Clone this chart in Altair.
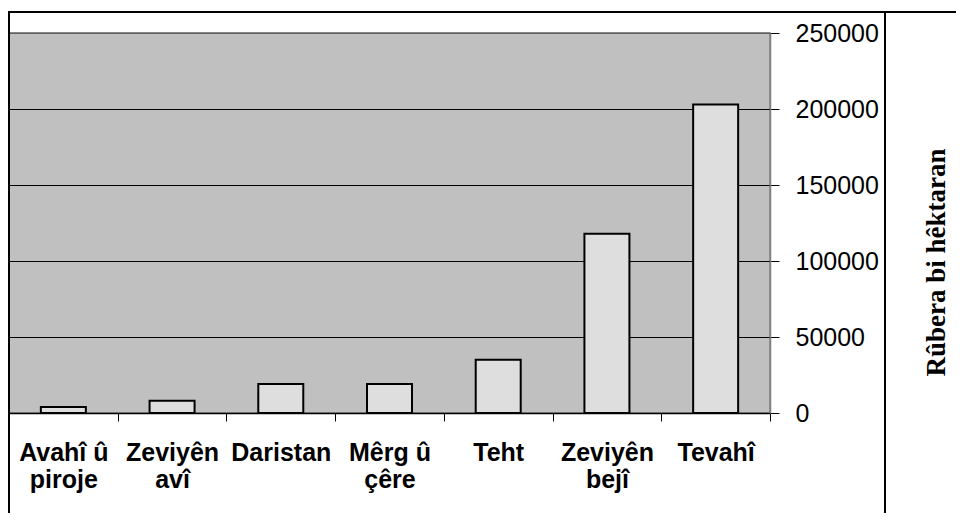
import altair as alt
import pandas as pd

categories = ["Avahî û|piroje", "Zeviyên|avî", "Daristan", "Mêrg û|çêre", "Teht", "Zeviyên|bejî", "Tevahî"]
values = [4000, 8000, 19000, 19000, 35000, 118000, 203000]
y_ticks = [0, 50000, 100000, 150000, 200000, 250000]
y_title = "Rûbera bi hêktaran"

df = pd.DataFrame({"cat": categories, "val": values})

W, H = 761, 380

bars = alt.Chart(df).mark_bar(size=45, fill="#dedede", stroke="black", strokeWidth=2).encode(
    x=alt.X("cat:N", sort=categories,
            scale=alt.Scale(paddingInner=0, paddingOuter=0),
            axis=alt.Axis(title=None, orient="bottom", labelAngle=0,
                          labelExpr="split(datum.label, '|')",
                          labelFont="Liberation Sans", labelFontWeight="bold",
                          labelFontSize=25, labelColor="black", labelLineHeight=27,
                          labelPadding=19, labelOverlap=False, labelBaseline="top",
                          tickBand="extent", tickSize=8, tickColor="black", tickWidth=1,
                          domainColor="black", domainWidth=1.5, grid=False)),
    y=alt.Y("val:Q",
            scale=alt.Scale(domain=[0, 250000], nice=False, zero=True),
            axis=alt.Axis(title=y_title, orient="right", values=y_ticks,
                          format="d",
                          labelFont="Liberation Sans", labelFontSize=25,
                          labelColor="black", labelPadding=16,
                          tickSize=9, tickColor="black", tickWidth=1,
                          domainColor="#808080", domainWidth=1.5,
                          grid=True, gridColor="black", gridWidth=1.2, gridOpacity=1,
                          titleFont="Liberation Serif", titleFontWeight="bold",
                          titleFontSize=27, titleColor="black",
                          titleAngle=270, titleAlign="center", titleBaseline="middle",
                          titleX=166, titleY=229)),
)

frame_data = alt.Data(values=[{}])
top_line = alt.Chart(frame_data).mark_rule(color="black", strokeWidth=2).encode(
    x=alt.value(-1), x2=alt.value(947), y=alt.value(-21))
left_line = alt.Chart(frame_data).mark_rule(color="black", strokeWidth=2).encode(
    x=alt.value(0), y=alt.value(-21), y2=alt.value(480))
right_line = alt.Chart(frame_data).mark_rule(color="black", strokeWidth=2).encode(
    x=alt.value(876), y=alt.value(-21), y2=alt.value(480))
top_border = alt.Chart(frame_data).mark_rule(color="#808080", strokeWidth=1.5).encode(
    x=alt.value(0), x2=alt.value(W), y=alt.value(0))

chart = alt.layer(bars, top_border, top_line, left_line, right_line).properties(
    width=W, height=H,
    autosize=alt.AutoSizeParams(type="none"),
    padding={"left": 1, "top": 25, "right": 186, "bottom": 100},
    background="white",
).configure_view(fill="#c0c0c0", stroke="#808080", strokeWidth=1.5)

chart.save("out.html", embed_options={"renderer": "svg", "actions": False})
